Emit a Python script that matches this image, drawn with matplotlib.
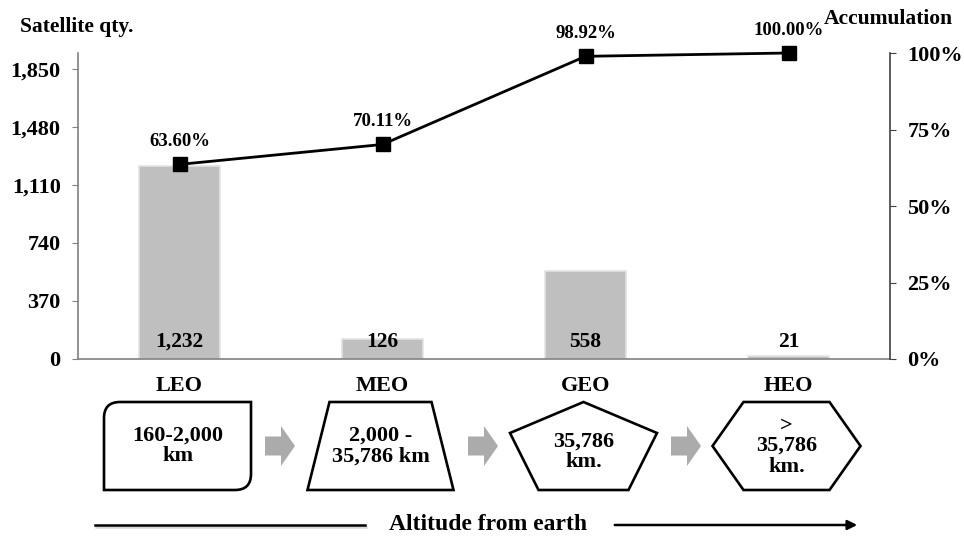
import matplotlib.pyplot as plt
import matplotlib.patheffects as pe
from matplotlib.patches import PathPatch, Polygon
from matplotlib.path import Path

plt.rcParams["font.family"] = ["Liberation Serif", "DejaVu Serif"]
plt.rcParams["font.weight"] = "bold"

orbits = ["LEO", "MEO", "GEO", "HEO"]
satellites = [1232, 126, 558, 21]
cumulative_pct = [63.60, 70.11, 98.92, 100.00]
qty_ticks = [0, 370, 740, 1110, 1480, 1850]
pct_ticks = [0, 25, 50, 75, 100]
altitude_text = ["160-2,000\nkm", "2,000 -\n35,786 km", "35,786\nkm.", ">\n35,786\nkm."]

W, H = 964, 537
L, R, B, T = 78, 890, 359, 53  # plot frame in pixels

fig = plt.figure(figsize=(W / 100, H / 100), dpi=100)
ax = fig.add_axes([L / W, 1 - B / H, (R - L) / W, (B - T) / H])

x = list(range(len(orbits)))
ax.bar(x, satellites, width=0.4, color="#BFBFBF", edgecolor="#E3E3E3", linewidth=1.2, zorder=2)
for xi, v in zip(x, satellites):
    ax.text(xi, 108, f"{v:,}", ha="center", va="center", fontsize=15.5, zorder=3)

ax.set_xlim(-0.5, len(orbits) - 0.5)
ax.set_ylim(0, 1950)
ax.set_yticks(qty_ticks, [f"{v:,}" for v in qty_ticks])
ax.set_xticks(x, orbits)
ax.tick_params(axis="y", length=4.5, color="#808080", labelsize=16, pad=8)
ax.tick_params(axis="x", length=0, labelsize=16, pad=12)
for s in ("top", "right"):
    ax.spines[s].set_visible(False)
for s in ("left", "bottom"):
    ax.spines[s].set_color("#808080")
    ax.spines[s].set_linewidth(1.2)

# cumulative share on the right axis
ax2 = ax.twinx()
ax2.set_ylim(0, 100)
ax2.plot(x, cumulative_pct, color="black", lw=2, marker="s", ms=10, zorder=4, clip_on=False)
for xi, v in zip(x, cumulative_pct):
    ax2.annotate(f"{v:.2f}%", (xi, v), xytext=(0, 16.5), textcoords="offset points",
                 ha="center", va="center", fontsize=13.5, annotation_clip=False)
ax2.set_yticks(pct_ticks, [f"{v}%" for v in pct_ticks])
ax2.tick_params(axis="y", length=4.5, color="#404040", labelsize=16, pad=8)
for s in ("top", "left", "bottom"):
    ax2.spines[s].set_visible(False)
ax2.spines["right"].set_color("#404040")
ax2.spines["right"].set_linewidth(1.2)

fig.text(20 / W, 1 - 27 / H, "Satellite qty.", ha="left", va="center", fontsize=15.5)
fig.text(953 / W, 1 - 19 / H, "Accumulation", ha="right", va="center", fontsize=15.5)

# altitude diagram under the chart, drawn in pixel units
ov = fig.add_axes([0, 0, 1, 1])
ov.set_xlim(0, W)
ov.set_ylim(H, 0)
ov.axis("off")

step = (R - L) / len(orbits)
centers = [L + (i + 0.5) * step - 2 for i in x]
y0, y1, ym = 402, 490, 446
edge = dict(facecolor="white", edgecolor="black", linewidth=1.9, joinstyle="miter")


def diag_round_rect(cx, hw=73.5, r=16):
    x0, x1 = cx - hw, cx + hw
    verts = [(x0, y0 + r), (x0, y1), (x1 - r, y1), (x1, y1), (x1, y1 - r),
             (x1, y0), (x0 + r, y0), (x0, y0), (x0, y0 + r), (x0, y0 + r)]
    codes = [Path.MOVETO, Path.LINETO, Path.LINETO, Path.CURVE3, Path.CURVE3,
             Path.LINETO, Path.LINETO, Path.CURVE3, Path.CURVE3, Path.CLOSEPOLY]
    return PathPatch(Path(verts, codes), **edge)


def trapezoid(cx):
    return Polygon([(cx - 51, y0), (cx + 51, y0), (cx + 73, y1), (cx - 73, y1)], **edge)


def pentagon(cx):
    return Polygon([(cx, y0), (cx + 73.5, 433), (cx + 45, y1), (cx - 45, y1), (cx - 73.5, 433)], **edge)


def hexagon(cx):
    return Polygon([(cx - 74, ym), (cx - 43, y0), (cx + 43, y0), (cx + 74, ym),
                    (cx + 43, y1), (cx - 43, y1)], **edge)


shapes = [diag_round_rect, trapezoid, pentagon, hexagon]
text_y = [ym, ym, 452, ym]
for cx, make, label, ty in zip(centers, shapes, altitude_text, text_y):
    ov.add_patch(make(cx))
    ov.text(cx, ty, label, ha="center", va="center", fontsize=16, linespacing=1.05)

# grey block arrows between the shapes
for a, b in zip(centers[:-1], centers[1:]):
    mx = (a + b) / 2 + 1
    ov.add_patch(Polygon([(mx - 15, ym - 9.5), (mx + 1, ym - 9.5), (mx + 1, ym - 20),
                          (mx + 15, ym), (mx + 1, ym + 20), (mx + 1, ym + 9.5),
                          (mx - 15, ym + 9.5)], facecolor="#ABABAB", edgecolor="none"))

shadow = [pe.SimpleLineShadow(offset=(0.8, -1.2), alpha=0.15), pe.Normal()]
ov.plot([95, 365], [525, 525], color="black", lw=1.8, path_effects=shadow)
ov.annotate("", xy=(860, 525), xytext=(612, 525),
            arrowprops=dict(arrowstyle="-|>", color="black", lw=1.8, mutation_scale=14))
ov.text(488, 524, "Altitude from earth", ha="center", va="center", fontsize=17)

fig.savefig("out.png", dpi=100)
